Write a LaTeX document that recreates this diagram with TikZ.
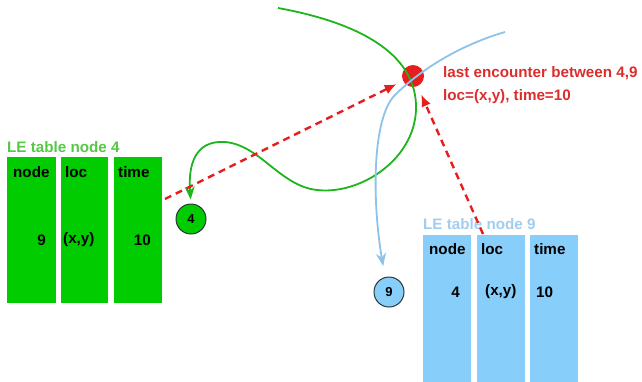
\documentclass[tikz,border=0pt]{standalone}
\usepackage{fontspec}
\setmainfont{Liberation Sans}
\usetikzlibrary{arrows.meta}
\definecolor{tgreen}{RGB}{0,204,0}
\definecolor{ttgreen}{RGB}{85,200,70}
\definecolor{cgreen}{RGB}{30,180,30}
\definecolor{tblue}{RGB}{135,206,250}
\definecolor{ttblue}{RGB}{160,205,240}
\definecolor{cblue}{RGB}{140,195,235}
\definecolor{tred}{RGB}{230,30,30}
\definecolor{txred}{RGB}{220,45,45}
\definecolor{rim}{RGB}{40,55,55}
\tikzset{
  col/.style={draw=none, inner sep=0, minimum width=48, minimum height=147},
  gcol/.style={col, fill=tgreen},
  bcol/.style={col, fill=tblue},
  txt/.style={font=\bfseries\fontsize{15.2}{17}\selectfont, inner sep=0, text=black},
  ttl/.style={font=\bfseries\fontsize{15.2}{17}\selectfont, inner sep=0, anchor=west},
  circ/.style={circle, draw=rim, line width=1pt, minimum size=30, inner sep=0, font=\bfseries\fontsize{13}{15}\selectfont},
  traj/.style={line width=1.8pt, -{Stealth[length=13pt,width=10pt]}},
  rdash/.style={tred, line width=2.4pt, dash pattern=on 7pt off 5pt, -{Latex[length=12pt,width=10pt]}}
}
\begin{document}
\begin{tikzpicture}[x=1pt,y=-1pt]
\useasboundingbox (0,0) rectangle (642,381);
% green table
\node[ttl, text=ttgreen] (gt) at (7,147) {LE table node 4};
\node[gcol, minimum width=49, minimum height=146] (g1) at (31.5,230) {};
\node[gcol, minimum width=47, minimum height=146] (g2) at (84.5,230) {};
\node[gcol, minimum width=48, minimum height=146] (g3) at (138,230) {};
\node[txt, anchor=west] (gh1) at (13,172) {node};
\node[txt, anchor=west] (gh2) at (65,172) {loc};
\node[txt, anchor=west] (gh3) at (118,172) {time};
\node[txt, anchor=east] (gv1) at (46,240) {9};
\node[txt, anchor=west] (gv2) at (63,240) {(x,y)};
\node[txt, anchor=east] (gv3) at (151,240) {10};
% blue table
\node[ttl, text=ttblue] (bt) at (423,224) {LE table node 9};
\node[bcol] (b1) at (447,308) {};
\node[bcol] (b2) at (501,308) {};
\node[bcol] (b3) at (554,308) {};
\node[txt, anchor=west] (bh1) at (429,249) {node};
\node[txt, anchor=west] (bh2) at (481,249) {loc};
\node[txt, anchor=west] (bh3) at (534,249) {time};
\node[txt, anchor=east] (bv1) at (460,292) {4};
\node[txt, anchor=west] (bv2) at (485,292) {(x,y)};
\node[txt, anchor=west] (bv3) at (536,292) {10};
% node circles
\node[circ, fill=tgreen] (n4) at (191,219) {4};
\node[circ, fill=tblue] (n9) at (389,292) {9};
% encounter
\node[circle, fill=tred, minimum size=22, inner sep=0] (dot) at (413,76) {};
\node[font=\bfseries\fontsize{15.2}{17}\selectfont, text=txred, anchor=west, inner sep=0] (l1) at (443,73) {last encounter between 4,9};
\node[font=\bfseries\fontsize{15.2}{17}\selectfont, text=txred, anchor=west, inner sep=0] (l2) at (443,97) {loc=(x,y), time=10};
% trajectories
\coordinate (gs) at (278,8);
\coordinate (bs) at (505,32);
\draw[traj, cgreen, shorten >=4pt] (gs) .. controls (355,22) and (418,52) .. (416,110)
  .. controls (414,160) and (360,195) .. (317,190)
  .. controls (280,186) and (260,145) .. (225,142)
  .. controls (195,140) and (188,165) .. (n4.north);
\draw[traj, cblue, shorten >=11pt] (bs) .. controls (460,45) and (420,70) .. (395,95)
  .. controls (372,118) and (372,200) .. (n9.105);
% red dashed arrows
\coordinate (r1) at (165,199);
\coordinate (r2) at (483,234);
\draw[rdash, shorten >=7pt] (r1) -- (dot);
\draw[rdash, shorten >=9pt] (r2) -- (dot);
\end{tikzpicture}
\end{document}
